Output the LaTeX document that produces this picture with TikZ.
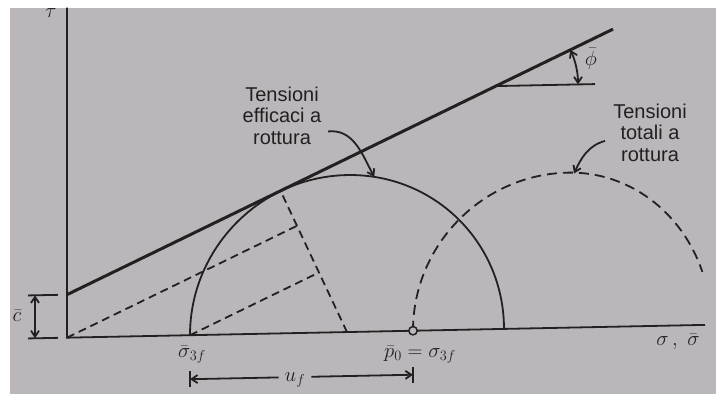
\documentclass[tikz,border=0pt]{standalone}
\usepackage{fontspec}
\setmainfont{Liberation Sans}
\usetikzlibrary{calc,arrows.meta}
\definecolor{bg}{RGB}{187,182,185}
\definecolor{ink}{RGB}{36,32,34}
\begin{document}
\begin{tikzpicture}[x=1pt,y=1pt,
  lbl/.style={font=\fontsize{20}{21.5}\selectfont, text=ink, align=center, inner sep=0pt},
  mth/.style={font=\fontsize{22}{24}\selectfont, text=ink, inner sep=0pt},
  thinln/.style={draw=ink, line width=1.8pt},
  envln/.style={draw=ink, line width=3pt},
  dsh/.style={draw=ink, line width=1.8pt, dash pattern=on 8pt off 5pt},
  dshc/.style={draw=ink, line width=1.8pt, dash pattern=on 10pt off 6pt},
  tipend/.style={-{Straight Barb[length=6pt,width=8pt]}},
  tipboth/.style={{Straight Barb[length=6pt,width=8pt]}-{Straight Barb[length=6pt,width=8pt]}}]
\useasboundingbox (0,0) rectangle (716,394);
\fill[white] (0,0) rectangle (716,394);
\fill[bg] (10,0) rectangle (716,386);
\begin{scope}[cm={1,0.02,0,1,(0,0)}]
  % key points
  \coordinate (O) at (67,55);
  \coordinate (Ytop) at (67,385);
  \coordinate (Xend) at (705,55);
  \coordinate (Cint) at (67,98);
  \coordinate (Lend) at (613,352.6);
  \coordinate (C) at (347,55);
  \coordinate (S) at (190,55);
  \coordinate (Pz) at (413,55);
  \coordinate (T) at ($(C)+(115:157)$);
  \coordinate (P) at (496,298);
  \coordinate (Ph) at (595,298);
  % axes
  \draw[thinln] (Ytop) -- (O) -- (Xend);
  % failure envelope
  \draw[envln] (Cint) -- (Lend);
  % phi reference
  \draw[thinln] (P) -- (Ph);
  \draw[thinln, tipboth] ($(P)+(82,0)$) arc[start angle=0, end angle=25, radius=82];
  \node[mth] (phi) at (591,323.5) {$\bar{\phi}$};
  % c-bar dimension
  \coordinate (ct1) at (28,98); \coordinate (ct2) at (58,98);
  \coordinate (cb1) at (28,55); \coordinate (cb2) at (58,55);
  \draw[thinln] (ct1) -- (ct2);
  \draw[thinln] (cb1) -- (cb2);
  \coordinate (ca) at (35,98); \coordinate (cb) at (35,55);
  \draw[thinln, tipboth] (ca) -- (cb);
  \node[mth] (cbar) at (17,78) {$\bar{c}$};
  % effective stress circle
  \draw[thinln] (S) arc[start angle=180, end angle=0, radius=157];
  % dashed construction lines
  \draw[dsh] (C) -- (T);
  \draw[dsh] (O) -- ($(C)!(O)!(T)$);
  \draw[dsh] (S) -- ($(C)!(S)!(T)$);
  % total stress circle
  \draw[dshc] (Pz) arc[start angle=180, end angle=90, radius=155]
     arc[start angle=90, end angle=20, x radius=143, y radius=155];
  \draw[ink, line width=1.5pt, fill=bg] (Pz) circle[radius=4.2];
  % axis labels
  \node[mth] (tau) at (51,380) {$\tau$};
  \node[mth, anchor=base] (s3f) at (192,32.5) {$\bar{\sigma}_{3f}$};
  \node[mth, anchor=base] (p0) at (420,28) {$\bar{p}_0=\sigma_{3f}$};
  \node[mth, anchor=base] (sig) at (678,35) {$\sigma\,,\ \bar{\sigma}$};
  % u_f dimension
  \coordinate (UL) at (190,11); \coordinate (UR) at (413,11);
  \coordinate (ULt) at (190,3); \coordinate (ULb) at (190,19);
  \coordinate (URt) at (413,3); \coordinate (URb) at (413,19);
  \draw[thinln] (ULt) -- (ULb);
  \draw[thinln] (URt) -- (URb);
  \node[mth, anchor=base] (uf) at (295,6.4) {$u_f$};
  \draw[thinln, tipend, shorten <=6pt] (uf.west |- UL) -- (UL);
  \draw[thinln, tipend, shorten <=6pt] (uf.east |- UR) -- (UR);
  % labels with arrows
  \node[lbl] (eff) at (282,272.7) {Tensioni\\efficaci a\\rottura};
  \coordinate (ea) at (328,256);
  \coordinate (eb) at ($(C)+(80:157)$);
  \draw[thinln, tipend] (ea) to[out=5, in=118] (eb);
  \node[lbl] (tot) at (650,248.3) {Tensioni\\totali a\\rottura};
  \coordinate (ta) at (605,241);
  \coordinate (tb) at (574,209);
  \draw[thinln, tipend] (ta) to[out=195, in=65] (tb);
\end{scope}
\end{tikzpicture}
\end{document}
